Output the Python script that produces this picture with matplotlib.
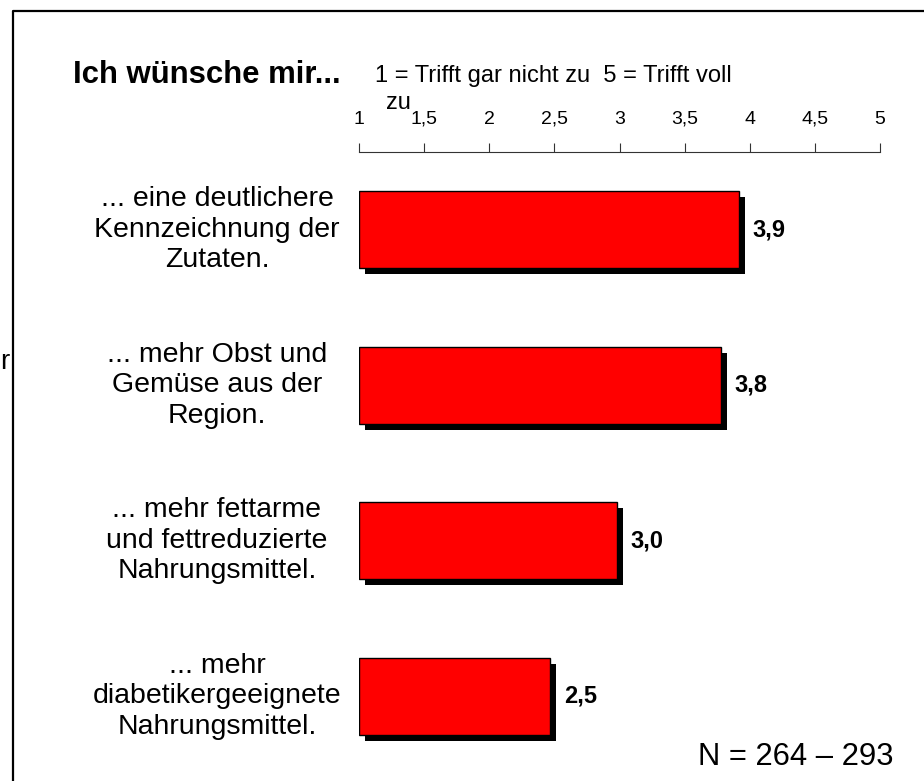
import matplotlib
matplotlib.use("Agg")
import matplotlib.pyplot as plt
import matplotlib.patheffects as pe
import matplotlib.transforms as mtrans
from matplotlib.lines import Line2D

plt.rcParams['font.family'] = ['Liberation Sans', 'DejaVu Sans']

# data
categories = [
    "... eine deutlichere\nKennzeichnung der\nZutaten.",
    "... mehr Obst und\nGemüse aus der\nRegion.",
    "... mehr fettarme\nund fettreduzierte\nNahrungsmittel.",
    "... mehr\ndiabetikergeeignete\nNahrungsmittel.",
]
values = [3.92, 3.78, 2.98, 2.47]
tick_values = [1, 1.5, 2, 2.5, 3, 3.5, 4, 4.5, 5]
tick_labels = ["1", "1,5", "2", "2,5", "3", "3,5", "4", "4,5", "5"]

W, H = 924, 781
fig = plt.figure(figsize=(W / 100, H / 100), dpi=100)

# axes placed in pixel terms
x0, x1 = 359, 880
y_top, y_bot = 152, 774
ax = fig.add_axes([x0 / W, 1 - y_bot / H, (x1 - x0) / W, (y_bot - y_top) / H])

pos = list(range(len(values)))
bars = ax.barh(pos, [v - 1 for v in values], left=1, height=0.495,
               color="#ff0000", edgecolor="black", linewidth=1.0)
for b in bars:
    b.set_path_effects([pe.SimplePatchShadow(offset=(4.3, -4.3), shadow_rgbFace="black", alpha=1.0),
                        pe.Normal()])

for i, v in enumerate(values):
    ax.annotate(f"{v:.1f}".replace(".", ","), (v, i), xytext=(9.5, 0),
                textcoords="offset points", ha="left", va="center",
                fontsize=17, fontweight="bold")

ax.set_xlim(1, 5)
ax.set_ylim(3.5, -0.5)
ax.xaxis.tick_top()
ax.set_xticks(tick_values)
ax.set_xticklabels(tick_labels, fontsize=14, va="baseline")
ax.tick_params(axis="x", direction="out", length=6.5, width=0.8, pad=14, color="#333333")
ax.set_yticks([])
for s in ["left", "right", "bottom"]:
    ax.spines[s].set_visible(False)
ax.spines["top"].set_linewidth(0.8)
ax.spines["top"].set_color("#333333")

# category labels, centred text block left of the bars
lab_tr = mtrans.blended_transform_factory(fig.transFigure, ax.transData)
for i, lab in enumerate(categories):
    ax.text(217 / W, i, lab, transform=lab_tr, ha="center", va="center",
            multialignment="center", fontsize=20.5, linespacing=1.22)

# titles and notes
fig.text(73 / W, 1 - 75 / H, "Ich wünsche mir...", fontsize=22.4, fontweight="bold", ha="left", va="center")
fig.text(375 / W, 1 - 76 / H, "1 = Trifft gar nicht zu  5 = Trifft voll", fontsize=17, ha="left", va="center")
fig.text(386 / W, 1 - 103 / H, "zu", fontsize=17, ha="left", va="center")
fig.text(893 / W, 1 - 757 / H, "N = 264 – 293", fontsize=22.3, ha="right", va="center")
fig.text(0.5 / W, 1 - 362 / H, "r", fontsize=20, ha="left", va="center")

# frame lines
fig.add_artist(Line2D([13 / W, 13 / W, 1.0], [0.0, 1 - 11 / H, 1 - 11 / H],
                      transform=fig.transFigure, color="black", linewidth=1.6))

fig.savefig("out.png", dpi=100)
